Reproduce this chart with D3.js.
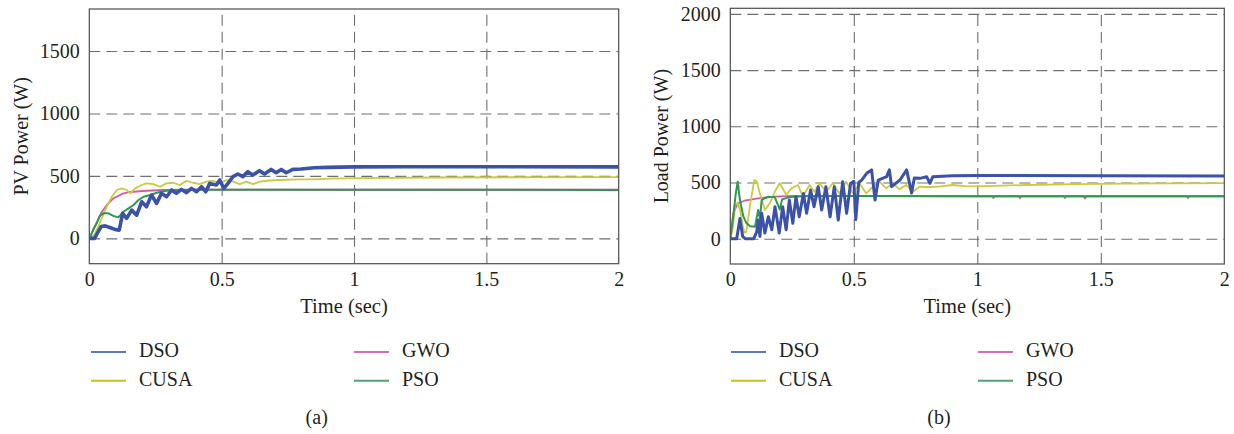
<!DOCTYPE html>
<html>
<head>
<meta charset="utf-8">
<script src="https://cdn.jsdelivr.net/npm/d3@7/dist/d3.min.js"></script>
<style>
  html, body { margin: 0; padding: 0; background: #fff; }
  svg { display: block; }
  text { font-family: "Liberation Serif", "Times New Roman", serif; fill: #231f20; }
</style>
</head>
<body>
<svg id="fig" width="1234" height="434"></svg>
<script>
// ---- data: time (s) and power (W) samples ----
const timeTicks = [0, 0.5, 1, 1.5, 2];
const timeTickLabels = ["0", "0.5", "1", "1.5", "2"];
const pvTicks = [0, 500, 1000, 1500];
const loadTicks = [0, 500, 1000, 1500, 2000];
const seriesNames = ["DSO", "CUSA", "GWO", "PSO"];

// (a) PV power
const pvDSO = [[0,0],[0.02,0],[0.03,40],[0.045,95],[0.06,100],[0.08,85],[0.1,70],[0.113,66],[0.126,200],[0.141,160],[0.16,226],[0.179,186],[0.198,293],[0.216,253],[0.235,347],[0.254,280],[0.273,360],[0.292,333],[0.311,387],[0.329,360],[0.348,392],[0.367,365],[0.386,400],[0.405,373],[0.424,413],[0.44,373],[0.455,440],[0.48,427],[0.493,467],[0.508,400],[0.524,440],[0.543,494],[0.561,515],[0.58,494],[0.599,534],[0.618,507],[0.643,542],[0.662,515],[0.687,552],[0.706,525],[0.725,552],[0.744,525],[0.769,552],[0.8,555],[0.85,565],[0.9,568],[1.0,572],[1.2,573],[1.5,573],[2.0,572]];
const pvCUSA = [[0,0],[0.02,30],[0.035,100],[0.05,173],[0.065,250],[0.085,333],[0.104,387],[0.123,400],[0.141,387],[0.154,360],[0.173,400],[0.198,427],[0.216,440],[0.242,434],[0.267,413],[0.292,440],[0.317,445],[0.342,427],[0.367,461],[0.392,445],[0.417,434],[0.443,454],[0.468,461],[0.493,440],[0.518,467],[0.543,454],[0.568,434],[0.593,454],[0.618,434],[0.644,454],[0.669,461],[0.719,467],[0.782,472],[0.845,472],[0.908,478],[1.03,482],[1.3,487],[1.6,489],[2.0,490]];
const pvGWO = [[0,0],[0.02,90],[0.044,200],[0.066,267],[0.091,320],[0.123,355],[0.154,371],[0.217,381],[0.28,387],[0.4,390],[0.6,390],[1.0,389],[2.0,389]];
const pvPSO = [[0,0],[0.015,70],[0.028,120],[0.04,180],[0.053,200],[0.072,200],[0.091,179],[0.11,168],[0.129,213],[0.148,240],[0.167,267],[0.186,307],[0.205,333],[0.23,347],[0.255,365],[0.292,381],[0.343,387],[0.406,390],[0.6,390],[1.0,389],[2.0,388]];

// (b) load power
const loadDSO = [[0,0],[0.026,0],[0.039,180],[0.05,20],[0.06,0],[0.095,0],[0.107,60],[0.113,166],[0.12,20],[0.127,226],[0.14,50],[0.154,196],[0.168,80],[0.181,285],[0.198,50],[0.212,285],[0.226,80],[0.239,344],[0.253,137],[0.266,374],[0.279,196],[0.296,403],[0.309,226],[0.325,433],[0.339,285],[0.356,463],[0.37,255],[0.387,463],[0.404,196],[0.421,463],[0.437,166],[0.455,507],[0.471,226],[0.487,492],[0.5,510],[0.508,170],[0.52,500],[0.532,522],[0.552,582],[0.572,612],[0.586,344],[0.599,522],[0.633,552],[0.644,612],[0.653,463],[0.687,522],[0.714,612],[0.734,406],[0.745,540],[0.768,537],[0.795,552],[0.808,493],[0.82,552],[0.9,560],[1.0,562],[1.5,560],[2.0,558]];
const loadCUSA = [[0,0],[0.01,100],[0.02,300],[0.03,320],[0.04,250],[0.05,120],[0.057,55],[0.065,60],[0.08,300],[0.097,522],[0.107,510],[0.12,400],[0.134,300],[0.14,255],[0.161,320],[0.18,418],[0.2,493],[0.227,389],[0.247,448],[0.274,478],[0.294,374],[0.321,478],[0.341,418],[0.361,493],[0.388,418],[0.415,493],[0.442,403],[0.469,507],[0.496,403],[0.523,493],[0.55,403],[0.577,463],[0.604,507],[0.631,448],[0.658,493],[0.685,440],[0.712,478],[0.739,418],[0.766,463],[0.8,458],[0.85,465],[0.9,478],[0.95,468],[1.0,465],[1.1,472],[1.2,478],[1.4,485],[1.6,490],[2.0,495]];
const loadGWO = [[0,0],[0.006,120],[0.012,226],[0.03,315],[0.057,338],[0.113,359],[0.18,374],[0.25,380],[0.4,382],[0.6,380],[1.0,378],[1.06,378],[1.065,362],[1.07,378],[1.168,378],[1.173,360],[1.178,378],[1.35,378],[1.355,362],[1.36,378],[1.431,378],[1.436,358],[1.441,378],[1.848,378],[1.853,362],[1.858,378],[2.0,378]];
const loadPSO = [[0,0],[0.012,200],[0.022,400],[0.03,507],[0.039,344],[0.053,196],[0.066,137],[0.08,110],[0.1,107],[0.113,255],[0.12,180],[0.127,344],[0.14,360],[0.154,374],[0.18,370],[0.2,260],[0.21,350],[0.24,370],[0.3,378],[0.5,380],[1.0,378],[2.0,378]];

// ---- styling ----
const lineColor = { DSO: "#3b52a8", CUSA: "#c9cb3c", GWO: "#d45aa8", PSO: "#2f9850" };
const keyColor  = { DSO: "#5b78c2", CUSA: "#c6c024", GWO: "#d46cba", PSO: "#4ea272" };
const serif = '"Liberation Serif", "Times New Roman", serif';

const svg = d3.select("#fig");
svg.append("rect").attr("width", 1234).attr("height", 434).attr("fill", "#fff");

function styleText(sel) {
  sel.attr("font-family", serif).style("font-family", serif)
     .attr("font-size", 20).style("font-size", "20px").attr("fill", "#231f20");
}

function drawPanel(cfg) {
  const x = d3.scaleLinear().domain([0, 2]).range([cfg.left, cfg.right]);
  const y = d3.scaleLinear().domain(cfg.yDomain).range([cfg.bottom, cfg.top]);
  const w = cfg.right - cfg.left, h = cfg.bottom - cfg.top;
  const g = svg.append("g");

  // dashed grid
  const gridX = g.append("g").attr("transform", `translate(0,${cfg.bottom})`)
    .call(d3.axisBottom(x).tickValues(timeTicks.filter(t => t > 0 && t < 2)).tickSize(-h).tickFormat(""));
  const gridY = g.append("g").attr("transform", `translate(${cfg.left},0)`)
    .call(d3.axisLeft(y).tickValues(cfg.yTicks).tickSize(-w).tickFormat(""));
  [gridX, gridY].forEach(a => {
    a.select(".domain").remove();
    a.selectAll(".tick line").attr("stroke", "#6f6f6f").attr("stroke-width", 1.1).attr("stroke-dasharray", "11,6");
  });

  // series
  const clipId = "clip" + cfg.id;
  svg.append("clipPath").attr("id", clipId).append("rect")
    .attr("x", cfg.left).attr("y", cfg.top).attr("width", w).attr("height", h);
  const line = d3.line().x(d => x(d[0])).y(d => y(d[1]));
  const order = ["GWO", "CUSA", "PSO", "DSO"];
  order.forEach(name => {
    g.append("path").datum(cfg.data[name])
      .attr("clip-path", `url(#${clipId})`)
      .attr("fill", "none")
      .attr("stroke", lineColor[name])
      .attr("stroke-width", cfg.widths[name])
      .attr("stroke-linejoin", "round")
      .attr("d", line);
  });

  // frame
  g.append("rect").attr("x", cfg.left).attr("y", cfg.top).attr("width", w).attr("height", h)
    .attr("fill", "none").attr("stroke", "#4d4d4d").attr("stroke-width", 1.2);

  // tick labels
  const ax = g.append("g").attr("transform", `translate(0,${cfg.bottom})`)
    .call(d3.axisBottom(x).tickValues(timeTicks).tickSize(0).tickFormat((d, i) => timeTickLabels[i]));
  ax.attr("font-family", null).attr("font-size", null);
  ax.select(".domain").remove();
  ax.selectAll("text").attr("dy", null).attr("y", 22.3).call(styleText);

  const ay = g.append("g").attr("transform", `translate(${cfg.left},0)`)
    .call(d3.axisLeft(y).tickValues(cfg.yTicks).tickSize(0).tickPadding(9.5).tickFormat(d3.format("d")));
  ay.attr("font-family", null).attr("font-size", null);
  ay.select(".domain").remove();
  ay.selectAll("text").call(styleText);

  // axis titles
  g.append("text").attr("x", (cfg.left + cfg.right) / 2 - 10).attr("y", 313)
    .attr("text-anchor", "middle").call(styleText).style("font-size", "20.5px").text("Time (sec)");
  g.append("text").attr("transform", `translate(${cfg.yLabelX},${(cfg.top + cfg.bottom) / 2}) rotate(-90)`)
    .attr("text-anchor", "middle").call(styleText).text(cfg.yLabel);

  // legend
  const rows = [["DSO", 0, 0], ["CUSA", 0, 1], ["GWO", 1, 0], ["PSO", 1, 1]];
  rows.forEach(([name, col, row]) => {
    const lx = col === 0 ? cfg.key1 : cfg.key2;
    const ly = 352 + row * 28.7;
    g.append("line").attr("x1", lx).attr("x2", lx + 35).attr("y1", ly).attr("y2", ly)
      .attr("stroke", keyColor[name]).attr("stroke-width", 2);
    g.append("text").attr("x", lx + 48).attr("y", ly + 5.3).call(styleText).text(name);
  });

  // caption
  g.append("text").attr("x", cfg.captionX).attr("y", 424).attr("text-anchor", "middle")
    .call(styleText).text(cfg.caption);
}

drawPanel({
  id: "a", left: 89.3, right: 618.7, top: 9, bottom: 263.7,
  yDomain: [-203, 1836], yTicks: pvTicks, yLabel: "PV Power (W)", yLabelX: 28,
  data: { DSO: pvDSO, CUSA: pvCUSA, GWO: pvGWO, PSO: pvPSO },
  widths: { DSO: 3.6, CUSA: 1.8, GWO: 1.8, PSO: 2.0 },
  key1: 91, key2: 354, caption: "(a)", captionX: 316.7
});

drawPanel({
  id: "b", left: 730.3, right: 1224.3, top: 8.3, bottom: 264,
  yDomain: [-225, 2050], yTicks: loadTicks, yLabel: "Load Power (W)", yLabelX: 668,
  data: { DSO: loadDSO, CUSA: loadCUSA, GWO: loadGWO, PSO: loadPSO },
  widths: { DSO: 3.0, CUSA: 1.8, GWO: 1.8, PSO: 2.0 },
  key1: 731, key2: 978, caption: "(b)", captionX: 939
});
</script>
</body>
</html>
